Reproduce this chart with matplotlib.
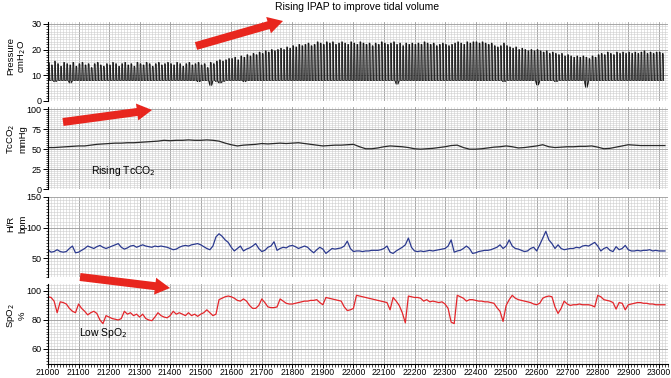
"""
Overnight NIV titration trace: pressure, TcCO2, heart rate and SpO2
on a shared time axis (four stacked strips, chart-paper grid).
"""
import numpy as np
import matplotlib.pyplot as plt
from matplotlib.patches import FancyArrow
from matplotlib.transforms import IdentityTransform
from matplotlib.ticker import MultipleLocator

plt.rcParams["font.family"] = ["Liberation Sans", "DejaVu Sans"]

T_START = 21000

# Pressure: one breath every 10 s, peak (IPAP) and trough (EPAP) in cmH2O
BREATH_STEP = 10
IPAP = [
    15, 14, 15.5, 14.5, 13.5, 15, 14.5, 14, 15, 13.5, 14.5, 15, 14, 14.5, 13, 14.5, 15, 14, 13.5, 14.5,
    14, 15, 14.5, 13.5, 14.5, 15, 14, 14.5, 13.5, 15, 14.5, 14, 15, 14.5, 13.5, 14.5, 15, 14, 14.5, 15,
    14.5, 14, 15, 14.5, 13.5, 14.5, 15, 14, 14.5, 15, 14, 14.5, 13, 15, 14.5, 15.5, 16, 15.5, 16, 16.5,
    16.5, 17, 16, 17.5, 17, 18, 17.5, 18.5, 18, 19, 18.5, 19.5, 19, 20, 19.5, 20, 20.5, 20, 21, 20.5,
    21.5, 21, 22, 21.5, 22, 22.5, 21.5, 22, 23, 22.5, 22, 23, 22.5, 23, 22, 22.5, 23, 22.5, 22, 23,
    22.5, 22, 23, 22.5, 22, 22.5, 21.5, 22.5, 22, 23, 22.5, 22, 22.5, 23, 22, 22.5, 21.5, 22.5, 22, 22.5,
    22, 22.5, 22, 23, 22.5, 22, 22.5, 21.5, 22, 22.5, 22, 21.5, 22, 22.5, 23, 22.5, 22, 23, 22.5, 23,
    23, 22.5, 23, 22.5, 22, 22.5, 21.5, 21, 21.5, 22.5, 21.5, 21, 20.5, 21, 20, 20.5, 20, 19.5, 20, 19.5,
    20, 19.5, 19, 19.5, 18.5, 19, 18.5, 18, 18.5, 17.5, 18, 17.5, 17, 17.5, 17, 17.5, 17, 16.5, 17.5, 17,
    18, 18.5, 18, 19, 18.5, 18, 19, 18.5, 19, 18.5, 19, 18.5, 19, 18.5, 19, 19.5, 18.5, 19, 18.5, 19,
    19, 18.5,
]
EPAP = [
    8, 8, 7.5, 8, 8, 8, 8, 7, 8, 8, 8, 8, 8, 8, 8, 8, 8, 8, 8, 8,
    8, 8, 8, 8, 8, 8, 8, 8, 8, 8, 8, 8, 8, 8, 8, 8, 8, 8, 8, 8,
    8, 8, 8, 8, 8, 8, 8, 8, 8, 7.5, 8, 8, 8, 6, 8, 7.5, 7, 7.5, 8, 8,
    8, 8, 8, 8, 7.5, 8, 8, 8, 8, 8, 8, 8, 8, 8, 8, 8, 8, 8, 8, 8,
    8, 8, 8, 8, 8, 8, 8, 8, 8, 8, 8, 8, 8, 8, 8, 8, 8, 8, 8, 8,
    8, 8, 8, 8, 8, 8, 8, 8, 8, 8, 8, 8, 8, 8, 6.5, 8, 8, 8, 8, 8,
    8, 8, 8, 8, 8, 8, 8, 8, 8, 8, 8, 8, 8, 8, 8, 8, 8, 8, 8, 8,
    8, 8, 8, 8, 8, 8, 8, 8, 8, 7.5, 8, 8, 8, 8, 8, 8, 8, 8, 8, 8,
    6.2, 8, 8, 8, 8, 8, 7.5, 8, 8, 8, 8, 8, 8, 8, 8, 8, 5.3, 8, 8, 8,
    8, 8, 8, 8, 8, 8, 8, 8, 8, 8, 8, 8, 8, 8, 8, 8, 8, 8, 8, 8,
    8, 8,
]

# TcCO2 (mmHg), every 20 s
TCCO2_STEP = 20
TCCO2 = [
    52, 52, 52.5, 53, 53.5, 54, 54, 55, 56, 56.5,
    57, 57.5, 57.5, 58, 58, 58.5, 59, 59.5, 60, 61,
    60.5, 61, 61, 61.5, 61, 61, 61.5, 61, 60, 57.5,
    55.5, 54, 55, 55.5, 56, 57, 56.5, 57, 57.5, 57,
    57.5, 58, 57, 56, 55, 54, 54.5, 55, 55, 55.5,
    56, 53, 50.5, 50.5, 51.5, 53, 54, 53.5, 53, 52,
    50.5, 50, 50.5, 51, 52, 53, 54.5, 55, 52, 50,
    50, 50.5, 51.5, 52.5, 53, 54, 53, 51.5, 52, 53,
    54, 55.5, 53, 52, 52.5, 53, 53, 53.5, 53.5, 54,
    52.5, 50.5, 51, 52.5, 54, 55.5, 55, 54.5, 54.5, 54.5,
    54.5, 54.5,
]

# Heart rate (bpm), every 10 s
HR_STEP = 10
HR = [
    64, 60, 61, 64, 61, 60, 61, 66, 70, 59,
    60, 63, 66, 70, 68, 66, 69, 71, 68, 66,
    68, 70, 72, 74, 68, 65, 67, 70, 71, 68,
    70, 72, 70, 69, 68, 70, 69, 70, 69, 68,
    66, 64, 65, 68, 70, 71, 70, 72, 73, 74,
    72, 69, 66, 64, 70, 85, 90, 86, 80, 76,
    68, 62, 66, 70, 62, 65, 67, 70, 74, 66,
    61, 63, 68, 70, 77, 63, 66, 68, 67, 70,
    71, 69, 66, 68, 70, 68, 63, 59, 64, 68,
    65, 58, 62, 66, 65, 66, 67, 70, 78, 66,
    61, 62, 62, 61, 62, 62, 63, 63, 63, 64,
    66, 70, 60, 58, 62, 65, 68, 72, 83, 68,
    62, 61, 62, 61, 62, 63, 62, 63, 64, 65,
    66, 70, 80, 60, 62, 63, 66, 70, 66, 58,
    59, 61, 62, 63, 63, 64, 66, 68, 72, 66,
    70, 80, 70, 66, 65, 63, 61, 62, 66, 68,
    62, 72, 83, 94, 80, 74, 66, 72, 66, 64,
    65, 66, 66, 68, 67, 70, 71, 70, 73, 76,
    70, 62, 66, 68, 63, 61, 69, 64, 66, 71,
    64, 62, 62, 63, 62, 63, 63, 64, 62, 63,
    62, 62, 62,
]

# SpO2 (%), every 10 s
SPO2_STEP = 10
SPO2 = [
    96, 95.5, 93, 85, 92.5, 92, 91, 88, 86, 85,
    91, 88, 86, 83.5, 85, 86, 84.5, 80, 77.5, 83,
    82, 81, 80.5, 80, 81, 86, 84, 85, 83, 84,
    82, 84, 81, 80, 79.5, 82, 85, 83, 82, 81.5,
    83, 86, 84, 85, 84, 83, 85, 83, 84, 82.5,
    84, 85, 87, 85, 83, 84, 94, 95, 96, 96.5,
    96, 95, 93.5, 93, 94.5, 93, 90, 88, 88, 90,
    94.5, 92, 89, 88.5, 88.5, 89, 94.5, 93, 91.5, 91,
    91, 91.5, 92, 92.5, 93, 93, 93.5, 93.5, 94, 92,
    90.5, 95.5, 95, 94.5, 94, 93.5, 93, 89, 86.5, 87,
    88, 97, 96.5, 96, 95.5, 95, 94.5, 94, 93.5, 93,
    92.5, 92, 87, 95.5, 93, 90, 85, 78, 96.5, 96,
    95.5, 95.5, 95, 93, 94, 92.5, 93, 92.5, 92, 92.5,
    91, 88, 78.5, 77.5, 97, 96, 95, 93, 94, 94,
    93.5, 93, 93, 92.5, 92.5, 92, 91.5, 88.5, 86, 79,
    90, 94, 97, 95, 94, 93.5, 93, 92.5, 92, 91,
    90.5, 91.5, 95, 96, 96.5, 96, 89, 84.5, 88, 93,
    91, 90, 90.5, 90.5, 91, 90.5, 90.5, 90.5, 90, 89,
    97, 96, 94, 93.5, 93, 92, 87.5, 92, 91.5, 87,
    90.5, 91, 91.5, 92, 92, 91.5, 91.5, 91, 91, 90.5,
    90.5, 90.5, 90.5,
]

TITLE = "Rising IPAP to improve tidal volume"
RED = "#e8261e"
X_MAX = 23030
TICK_FS = 6.5


def time_axis(n, step):
    return T_START + step * np.arange(n)


def style_strip(ax, ylim, major, show_x=False):
    ax.set_xlim(T_START, X_MAX)
    ax.set_ylim(*ylim)
    ax.xaxis.set_major_locator(MultipleLocator(100))
    ax.xaxis.set_minor_locator(MultipleLocator(10))
    ax.yaxis.set_major_locator(MultipleLocator(major))
    ax.yaxis.set_minor_locator(MultipleLocator(major / 10))
    ax.grid(which="minor", color="#cdcdcd", linewidth=0.4)
    ax.grid(which="major", color="#999999", linewidth=0.6)
    ax.set_axisbelow(True)
    for side in ("top", "right"):
        ax.spines[side].set_visible(False)
    ax.spines["bottom"].set_visible(show_x)
    ax.spines["left"].set_linewidth(0.8)
    ax.tick_params(axis="y", which="major", length=3.5, width=0.7, labelsize=TICK_FS, pad=1)
    ax.tick_params(axis="y", which="minor", length=1.8, width=0.5)
    if show_x:
        ax.spines["bottom"].set_linewidth(0.8)
        ax.tick_params(axis="x", which="major", length=3, width=0.7, labelsize=6.2, pad=0.5)
        ax.tick_params(axis="x", which="minor", length=1.8, width=0.5)
    else:
        ax.tick_params(axis="x", which="both", length=0, labelbottom=False)


def pressure_polyline(ipap, epap):
    xs, ys = [], []
    for t, hi, lo in zip(time_axis(len(ipap), BREATH_STEP), ipap, epap):
        xs += [t, t + 1.5, t + 4, t + 5.5]
        ys += [lo, hi, hi, lo]
    return xs, ys


def main():
    W, H = 671, 378
    fig = plt.figure(figsize=(W / 100, H / 100), dpi=100)

    # (top_px, bottom_px) of each strip in the image
    def add_strip(top_px, bottom_px):
        return fig.add_axes([48 / W, 1 - bottom_px / H, 620 / W, (bottom_px - top_px) / H])

    ax_p = add_strip(21.8, 101)
    ax_c = add_strip(107.4, 189.3)
    ax_h = add_strip(197, 276.7)
    ax_s = add_strip(283.7, 363.5)

    xs, ys = pressure_polyline(IPAP, EPAP)
    ax_p.fill_between(xs, 8, ys, color="#6a6a6a", linewidth=0)
    ax_p.plot(xs, ys, color="#111111", linewidth=0.55)
    style_strip(ax_p, (0, 30.8), 10)

    ax_c.plot(time_axis(len(TCCO2), TCCO2_STEP), TCCO2, color="#2a2a2a", linewidth=0.9)
    style_strip(ax_c, (0, 102), 25)

    ax_h.plot(time_axis(len(HR), HR_STEP), HR, color="#2c3a8f", linewidth=0.9)
    style_strip(ax_h, (20, 150), 50)

    ax_s.plot(time_axis(len(SPO2), SPO2_STEP), SPO2, color="#e3262b", linewidth=0.9)
    style_strip(ax_s, (50, 105), 20, show_x=True)

    # channel labels (two rotated lines left of each strip)
    labels = [
        ("Pressure", "cmH$_2$O", 56),
        ("TcCO$_2$", "mmHg", 139),
        ("H/R", "bpm", 224),
        ("SpO$_2$", "%", 316),
    ]
    for name, unit, y_px in labels:
        fig.text(11 / W, 1 - y_px / H, name, rotation=90, ha="center", va="center", fontsize=6.8)
        fig.text(22.5 / W, 1 - y_px / H, unit, rotation=90, ha="center", va="center", fontsize=6.8)

    fig.text(357 / W, 1 - 7 / H, TITLE, ha="center", va="center", fontsize=7.5)
    fig.text(123 / W, 1 - 171 / H, "Rising TcCO$_2$", ha="center", va="center", fontsize=7.5)
    fig.text(103 / W, 1 - 333 / H, "Low SpO$_2$", ha="center", va="center", fontsize=7.5)

    # red arrows, pixel coordinates (image y measured from the top)
    arrows = [((196, 46), (283, 21)), ((63, 122), (152, 110)), ((80, 277), (170, 288))]
    for (x0, y0), (x1, y1) in arrows:
        y0d, y1d = H - y0, H - y1
        fig.add_artist(FancyArrow(x0, y0d, x1 - x0, y1d - y0d, width=8, head_width=17,
                                  head_length=15, length_includes_head=True,
                                  color=RED, linewidth=0, transform=IdentityTransform()))

    fig.savefig("out.png", dpi=100)


if __name__ == "__main__":
    main()
